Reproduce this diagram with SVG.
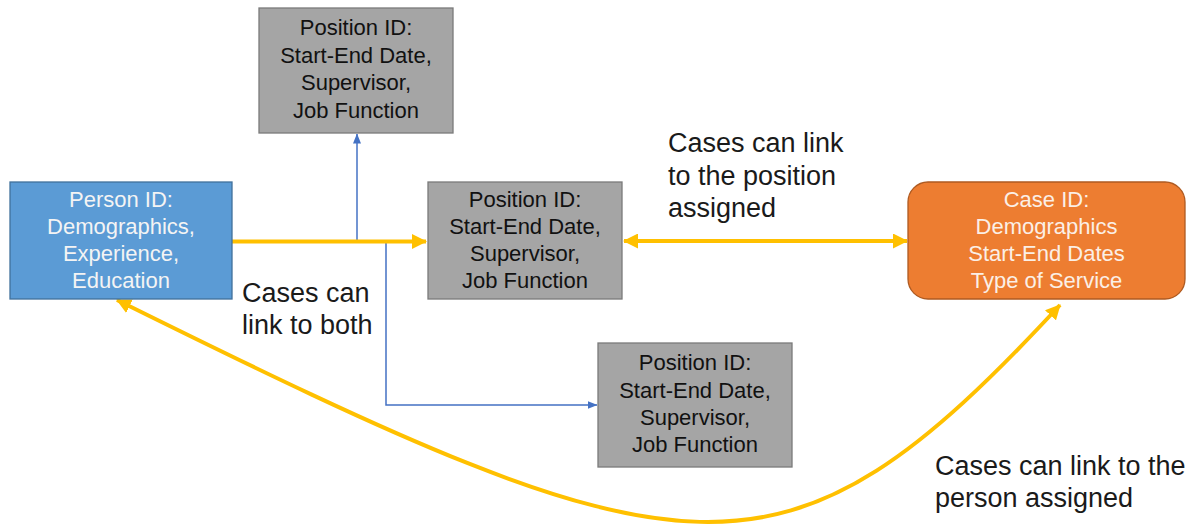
<svg xmlns="http://www.w3.org/2000/svg" width="1202" height="527" viewBox="0 0 1202 527">
  <style>
    .node text { font-family: "Liberation Sans", Arial, sans-serif; font-size: 22px; text-anchor: middle; }
    .person rect { fill: #5B9BD5; stroke: #41719C; stroke-width: 1.3; }
    .person text { fill: #F4F4F4; }
    .position rect { fill: #A5A5A5; stroke: #7A7A7A; stroke-width: 1.3; }
    .position text { fill: #111111; }
    .case rect { fill: #ED7D31; stroke: #AE5A21; stroke-width: 1.3; }
    .case text { fill: #FBEFE6; }
    .label { font-family: "Liberation Sans", Arial, sans-serif; font-size: 27px; fill: #1A1A1A; }
    .link { fill: none; stroke: #FFC000; stroke-width: 4; }
    .branch { fill: none; stroke: #4472C4; stroke-width: 1.5; }
  </style>
  <defs>
    <marker id="arrowGold" markerUnits="userSpaceOnUse" viewBox="0 0 15 15" refX="14" refY="7.5" markerWidth="15" markerHeight="15" orient="auto-start-reverse">
      <path d="M0,0 L15,7.5 L0,15 Z" fill="#FFC000"/>
    </marker>
    <marker id="arrowBlue" markerUnits="userSpaceOnUse" viewBox="0 0 10 8" refX="9.5" refY="4" markerWidth="10" markerHeight="8" orient="auto-start-reverse">
      <path d="M0,0 L10,4 L0,8 Z" fill="#4472C4"/>
    </marker>
  </defs>

  <!-- connectors -->
  <g id="connectors">
    <path class="branch" d="M357,241 L357,134" marker-end="url(#arrowBlue)"/>
    <path class="branch" d="M386,242 L386,405 L597,405" marker-end="url(#arrowBlue)"/>
    <path class="link" d="M232,241.5 L426,241.5" marker-end="url(#arrowGold)"/>
    <path class="link" d="M624,241 L907,241" marker-start="url(#arrowGold)" marker-end="url(#arrowGold)"/>
    <path class="link" d="M117,300 C692,585 782,605 1060,305" marker-start="url(#arrowGold)" marker-end="url(#arrowGold)"/>
  </g>

  <!-- nodes -->
  <g id="person" class="node person">
    <rect x="10" y="182" width="222" height="117"/>
    <text x="121" y="207">Person ID:</text>
    <text x="121" y="234">Demographics,</text>
    <text x="121" y="261">Experience,</text>
    <text x="121" y="288">Education</text>
  </g>

  <g id="position-top" class="node position">
    <rect x="259" y="8" width="194" height="125"/>
    <text x="356" y="35">Position ID:</text>
    <text x="356" y="63">Start-End Date,</text>
    <text x="356" y="90">Supervisor,</text>
    <text x="356" y="118">Job Function</text>
  </g>

  <g id="position-middle" class="node position">
    <rect x="428" y="182" width="194" height="117"/>
    <text x="525" y="207">Position ID:</text>
    <text x="525" y="234">Start-End Date,</text>
    <text x="525" y="261">Supervisor,</text>
    <text x="525" y="288">Job Function</text>
  </g>

  <g id="position-bottom" class="node position">
    <rect x="598" y="343" width="194" height="124"/>
    <text x="695" y="370">Position ID:</text>
    <text x="695" y="398">Start-End Date,</text>
    <text x="695" y="425">Supervisor,</text>
    <text x="695" y="452">Job Function</text>
  </g>

  <g id="case" class="node case">
    <rect x="908" y="182" width="277" height="117" rx="20" ry="20"/>
    <text x="1046.5" y="207">Case ID:</text>
    <text x="1046.5" y="234">Demographics</text>
    <text x="1046.5" y="261">Start-End Dates</text>
    <text x="1046.5" y="288">Type of Service</text>
  </g>

  <!-- link annotations -->
  <g id="labels">
    <text class="label" x="668" y="152">Cases can link</text>
    <text class="label" x="668" y="185">to the position</text>
    <text class="label" x="668" y="217">assigned</text>
    <text class="label" x="242" y="302">Cases can</text>
    <text class="label" x="242" y="334">link to both</text>
    <text class="label" x="935" y="475">Cases can link to the</text>
    <text class="label" x="935" y="507">person assigned</text>
  </g>
</svg>
